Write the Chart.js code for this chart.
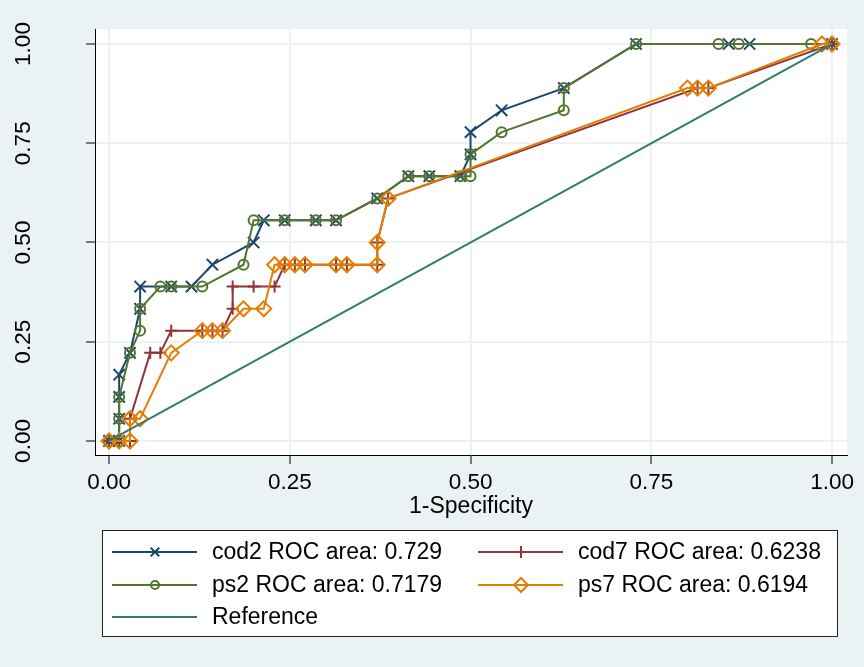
<!DOCTYPE html>
<html>
<head>
<meta charset="utf-8">
<script src="https://cdn.jsdelivr.net/npm/chart.js@4.4.1/dist/chart.umd.min.js"></script>
<style>
  html, body { margin: 0; padding: 0; background: #eaf2f3; }
  canvas { display: block; }
</style>
</head>
<body>
<canvas id="rocChart" width="864" height="667"></canvas>
<script>
// ROC points (1-Specificity, Sensitivity)
const cod2X = [0, 0.014, 0.014, 0.014, 0.014, 0.029, 0.043, 0.043, 0.086, 0.114, 0.143, 0.2, 0.214, 0.243, 0.286, 0.314, 0.371, 0.414, 0.443, 0.486, 0.5, 0.5, 0.543, 0.629, 0.729, 0.857, 0.886, 1];
const cod2Y = [0, 0, 0.056, 0.111, 0.167, 0.222, 0.333, 0.389, 0.389, 0.389, 0.444, 0.5, 0.556, 0.556, 0.556, 0.556, 0.611, 0.667, 0.667, 0.667, 0.722, 0.778, 0.833, 0.889, 1, 1, 1, 1];

const cod7X = [0, 0.014, 0.029, 0.029, 0.057, 0.071, 0.086, 0.129, 0.143, 0.157, 0.171, 0.171, 0.2, 0.229, 0.243, 0.257, 0.271, 0.314, 0.329, 0.371, 0.371, 0.386, 0.814, 0.829, 1];
const cod7Y = [0, 0, 0, 0.056, 0.222, 0.222, 0.278, 0.278, 0.278, 0.278, 0.333, 0.389, 0.389, 0.389, 0.444, 0.444, 0.444, 0.444, 0.444, 0.444, 0.5, 0.611, 0.889, 0.889, 1];

const ps2X = [0, 0.014, 0.014, 0.014, 0.029, 0.043, 0.043, 0.071, 0.086, 0.129, 0.186, 0.2, 0.243, 0.286, 0.314, 0.371, 0.414, 0.443, 0.486, 0.5, 0.5, 0.543, 0.629, 0.629, 0.729, 0.843, 0.871, 0.971, 1];
const ps2Y = [0, 0, 0.056, 0.111, 0.222, 0.278, 0.333, 0.389, 0.389, 0.389, 0.444, 0.556, 0.556, 0.556, 0.556, 0.611, 0.667, 0.667, 0.667, 0.667, 0.722, 0.778, 0.833, 0.889, 1, 1, 1, 1, 1];

const ps7X = [0, 0.014, 0.029, 0.029, 0.043, 0.086, 0.129, 0.143, 0.157, 0.186, 0.214, 0.229, 0.243, 0.257, 0.271, 0.314, 0.329, 0.371, 0.371, 0.386, 0.8, 0.814, 0.829, 0.986, 1];
const ps7Y = [0, 0, 0, 0.056, 0.056, 0.222, 0.278, 0.278, 0.278, 0.333, 0.333, 0.444, 0.444, 0.444, 0.444, 0.444, 0.444, 0.444, 0.5, 0.611, 0.889, 0.889, 0.889, 1, 1];

const refX = [0, 1];
const refY = [0, 1];

const seriesLabels = ['cod2 ROC area: 0.729', 'cod7 ROC area: 0.6238', 'ps2 ROC area: 0.7179', 'ps7 ROC area: 0.6194', 'Reference'];
const tickValues = [0, 0.25, 0.5, 0.75, 1];
const tickLabels = ['0.00', '0.25', '0.50', '0.75', '1.00'];
const xTitle = '1-Specificity';

const FONT = '"Liberation Sans", Arial, sans-serif';

function toPoints(xs, ys) {
  return xs.map((x, i) => ({ x: x, y: ys[i] }));
}

// stata-like backdrop: bluish page, white plot region
const backdrop = {
  id: 'backdrop',
  beforeDraw(chart) {
    const { ctx, chartArea: a } = chart;
    ctx.save();
    ctx.fillStyle = '#eaf2f3';
    ctx.fillRect(0, 0, chart.width, chart.height);
    ctx.fillStyle = '#ffffff';
    ctx.fillRect(a.left, a.top, a.right - a.left, a.bottom - a.top);
    ctx.restore();
  }
};

// boxed two-column legend under the axis title
const boxLegend = {
  id: 'boxLegend',
  afterDraw(chart) {
    const ctx = chart.ctx;
    const cols = [112, 478];
    const rows = [552, 585, 617];
    const legendRadius = { crossRot: 6, circle: 4, rectRot: 7, cross: 6 };
    ctx.save();
    ctx.fillStyle = '#ffffff';
    ctx.fillRect(102, 530, 736, 107);
    ctx.strokeStyle = '#222222';
    ctx.lineWidth = 1;
    ctx.strokeRect(102.5, 530.5, 735, 106);

    chart.data.datasets.forEach((ds, i) => {
      const x0 = cols[i % 2];
      const y = rows[Math.floor(i / 2)];
      ctx.strokeStyle = ds.borderColor;
      ctx.lineWidth = 2;
      ctx.beginPath();
      ctx.moveTo(x0, y);
      ctx.lineTo(x0 + 85, y);
      ctx.stroke();
      if (ds.pointRadius > 0) {
        ctx.fillStyle = 'rgba(0,0,0,0)';
        Chart.helpers.drawPoint(ctx, {
          pointStyle: ds.pointStyle,
          radius: legendRadius[ds.pointStyle],
          rotation: 0,
          borderWidth: 2
        }, x0 + 43, y);
      }
      ctx.fillStyle = '#000000';
      ctx.font = '23px ' + FONT;
      ctx.textBaseline = 'middle';
      ctx.textAlign = 'left';
      ctx.fillText(ds.label, x0 + 100, y + 1);
    });
    ctx.restore();
  }
};

function series(label, xs, ys, color, style, radius, order) {
  return {
    label: label,
    data: toPoints(xs, ys),
    showLine: true,
    borderColor: color,
    backgroundColor: color,
    borderWidth: 2,
    tension: 0,
    pointStyle: style,
    pointRadius: radius,
    pointHoverRadius: radius,
    pointBorderColor: color,
    pointBackgroundColor: 'rgba(0,0,0,0)',
    pointBorderWidth: 2,
    order: order
  };
}

const ctx = document.getElementById('rocChart').getContext('2d');

const rocChart = new Chart(ctx, {
  type: 'scatter',
  data: {
    datasets: [
      series(seriesLabels[0], cod2X, cod2Y, '#1a476f', 'crossRot', 8, 4),
      series(seriesLabels[1], cod7X, cod7Y, '#90353b', 'cross', 6, 3),
      series(seriesLabels[2], ps2X, ps2Y, '#55752f', 'circle', 5, 2),
      series(seriesLabels[3], ps7X, ps7Y, '#e37e00', 'rectRot', 7.5, 1),
      series(seriesLabels[4], refX, refY, '#2f7c70', 'circle', 0, 0)
    ]
  },
  options: {
    responsive: false,
    animation: false,
    events: [],
    layout: {
      padding: { left: 0, top: 29, right: 17, bottom: 147 }
    },
    plugins: {
      legend: { display: false },
      tooltip: { enabled: false }
    },
    scales: {
      x: {
        type: 'linear',
        min: -0.0194,
        max: 1.0207,
        afterBuildTicks: (scale) => { scale.ticks = tickValues.map(v => ({ value: v })); },
        afterFit: (scale) => {
          scale.height = 65;
          scale.paddingLeft = 0;
          scale.paddingRight = 0;
        },
        grid: {
          color: '#eaf2f3',
          lineWidth: 2,
          tickColor: '#000000',
          tickWidth: 1,
          tickLength: 9
        },
        border: { display: true, color: '#000000', width: 1 },
        ticks: {
          color: '#000000',
          padding: 5,
          maxRotation: 0,
          font: { family: FONT, size: 22.5 },
          callback: (value) => tickLabels[tickValues.indexOf(value)]
        },
        title: {
          display: true,
          text: xTitle,
          color: '#000000',
          padding: { top: 0, bottom: 0 },
          font: { family: FONT, size: 23 }
        }
      },
      y: {
        type: 'linear',
        min: -0.0353,
        max: 1.0378,
        afterBuildTicks: (scale) => { scale.ticks = tickValues.map(v => ({ value: v })); },
        afterFit: (scale) => {
          scale.width = 95;
          scale.paddingTop = 0;
          scale.paddingBottom = 0;
        },
        grid: {
          color: '#eaf2f3',
          lineWidth: 2,
          tickColor: '#000000',
          tickWidth: 1,
          tickLength: 9
        },
        border: { display: true, color: '#000000', width: 1 },
        ticks: {
          color: '#000000',
          padding: 40,
          minRotation: 90,
          maxRotation: 90,
          crossAlign: 'center',
          font: { family: FONT, size: 22.5 },
          callback: (value) => tickLabels[tickValues.indexOf(value)]
        }
      }
    }
  },
  plugins: [backdrop, boxLegend]
});
</script>
</body>
</html>
